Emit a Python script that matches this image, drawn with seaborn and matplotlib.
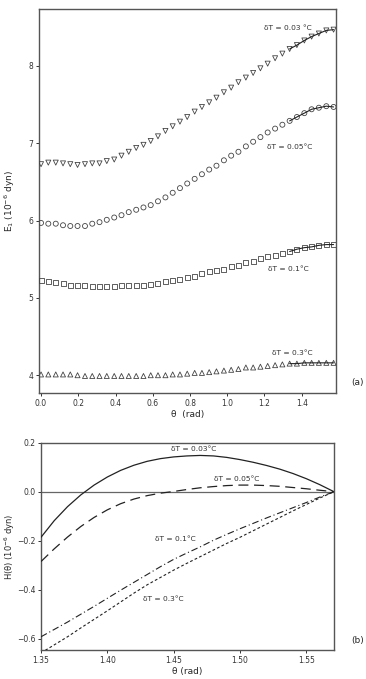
import matplotlib
matplotlib.use('Agg')
import matplotlib.pyplot as plt
import seaborn as sns
import pandas as pd

# --- data ---
# (a) E1 vs theta, 41 points 0..pi/2
THETA_A = [0.0, 0.039, 0.079, 0.118, 0.157, 0.196, 0.236, 0.275, 0.314, 0.353,
           0.393, 0.432, 0.471, 0.511, 0.550, 0.589, 0.628, 0.668, 0.707, 0.746,
           0.785, 0.825, 0.864, 0.903, 0.942, 0.982, 1.021, 1.060, 1.100, 1.139,
           1.178, 1.217, 1.257, 1.296, 1.335, 1.374, 1.414, 1.453, 1.492, 1.532, 1.571]
E_003 = [6.73, 6.75, 6.75, 6.74, 6.73, 6.72, 6.73, 6.74, 6.74, 6.77,
         6.79, 6.84, 6.89, 6.94, 6.98, 7.03, 7.09, 7.16, 7.22, 7.28,
         7.34, 7.41, 7.47, 7.53, 7.59, 7.66, 7.72, 7.79, 7.85, 7.91,
         7.97, 8.03, 8.10, 8.16, 8.22, 8.27, 8.33, 8.38, 8.42, 8.46, 8.47]
E_005 = [5.97, 5.96, 5.96, 5.94, 5.93, 5.93, 5.93, 5.96, 5.98, 6.01,
         6.04, 6.07, 6.11, 6.14, 6.17, 6.20, 6.25, 6.30, 6.36, 6.42,
         6.48, 6.54, 6.60, 6.66, 6.71, 6.78, 6.84, 6.89, 6.96, 7.02,
         7.08, 7.14, 7.19, 7.24, 7.29, 7.34, 7.39, 7.44, 7.46, 7.48, 7.47]
E_01 = [5.22, 5.21, 5.20, 5.18, 5.16, 5.16, 5.16, 5.15, 5.15, 5.15,
        5.15, 5.16, 5.16, 5.16, 5.16, 5.17, 5.19, 5.21, 5.22, 5.24,
        5.27, 5.28, 5.31, 5.34, 5.35, 5.37, 5.40, 5.42, 5.46, 5.47,
        5.51, 5.53, 5.55, 5.58, 5.60, 5.63, 5.65, 5.66, 5.68, 5.69, 5.69]
E_03 = [4.01, 4.01, 4.01, 4.01, 4.01, 4.00, 3.99, 3.99, 3.99, 3.99,
        3.99, 3.99, 3.99, 3.99, 3.99, 4.00, 4.00, 4.00, 4.01, 4.01,
        4.02, 4.03, 4.03, 4.04, 4.05, 4.06, 4.07, 4.08, 4.10, 4.10,
        4.11, 4.12, 4.13, 4.14, 4.15, 4.15, 4.16, 4.16, 4.16, 4.16, 4.16]
FIT_START = 34  # solid fit drawn over the last points

# (b) H(theta)
THETA_B = [1.35, 1.36, 1.37, 1.38, 1.39, 1.40, 1.41, 1.42, 1.43, 1.44, 1.45, 1.46,
           1.47, 1.48, 1.49, 1.50, 1.51, 1.52, 1.53, 1.54, 1.55, 1.56, 1.5708]
H_003 = [-0.186, -0.118, -0.061, -0.013, 0.027, 0.060, 0.087, 0.108, 0.124, 0.135, 0.142, 0.146,
         0.148, 0.146, 0.140, 0.131, 0.120, 0.107, 0.092, 0.074, 0.053, 0.029, 0.0]
H_005 = [-0.285, -0.233, -0.185, -0.142, -0.105, -0.074, -0.049, -0.030, -0.016, -0.006, 0.001, 0.009,
         0.016, 0.021, 0.025, 0.027, 0.027, 0.025, 0.022, 0.017, 0.012, 0.006, 0.0]
H_01 = [-0.592, -0.562, -0.532, -0.500, -0.468, -0.435, -0.402, -0.370, -0.338, -0.306, -0.276, -0.250,
        -0.225, -0.198, -0.174, -0.151, -0.129, -0.107, -0.086, -0.065, -0.044, -0.022, 0.0]
H_03 = [-0.658, -0.625, -0.592, -0.556, -0.521, -0.486, -0.450, -0.414, -0.380, -0.350, -0.320, -0.292,
        -0.265, -0.238, -0.211, -0.186, -0.159, -0.132, -0.105, -0.078, -0.052, -0.026, 0.0]

LABELS_A = ["δT = 0.03 °C", "δT = 0.05°C", "δT = 0.1°C", "δT = 0.3°C"]
LABELS_B = ["δT = 0.03°C", "δT = 0.05°C", "δT = 0.1°C", "δT = 0.3°C"]

sns.set_style("ticks")
plt.rcParams['font.family'] = ['DejaVu Sans']
plt.rcParams['mathtext.fontset'] = 'dejavusans'

FRAME = "#555555"
MK = "#444444"
TICK_FS = 5.5
LAB_FS = 6.5
ANN_FS = 5.4

fig = plt.figure(figsize=(3.66, 6.79), dpi=100)
ax1 = fig.add_axes([39/366, 1 - 393/679, (336 - 39)/366, (393 - 9)/679])
ax2 = fig.add_axes([41/366, 1 - 650/679, (334 - 41)/366, (650 - 442.7)/679])

# --- panel (a) ---
dfa = pd.DataFrame({"theta": THETA_A, "E003": E_003, "E005": E_005, "E01": E_01, "E03": E_03})
for col, mk in [("E003", "v"), ("E005", "o"), ("E01", "s"), ("E03", "^")]:
    sns.scatterplot(data=dfa, x="theta", y=col, ax=ax1, marker=mk, s=13,
                    facecolor="none", edgecolor=MK, linewidth=0.6, zorder=3)
    fit = dfa.iloc[FIT_START:]
    sns.lineplot(data=fit, x="theta", y=col, ax=ax1, color="#222222", lw=0.8, zorder=4)

ann_a = [(1.326, 8.49), (1.337, 6.95), (1.326, 5.37), (1.348, 4.29)]
for (x, y), t in zip(ann_a, LABELS_A):
    ax1.text(x, y, t, fontsize=ANN_FS, ha="center", va="center", color="#333333")

ax1.set_xlim(-0.011, 1.584)
ax1.set_ylim(3.77, 8.737)
ax1.set_xticks([0.0, 0.2, 0.4, 0.6, 0.8, 1.0, 1.2, 1.4])
ax1.set_xticklabels([f"{v:.1f}" for v in [0.0, 0.2, 0.4, 0.6, 0.8, 1.0, 1.2, 1.4]])
ax1.set_yticks([4, 5, 6, 7, 8])
ax1.set_xlabel("θ  (rad)", fontsize=LAB_FS, labelpad=1.5)
ax1.set_ylabel("E$_1$ (10$^{-6}$ dyn)", fontsize=LAB_FS)
ax1.yaxis.set_label_coords(-0.075, 0.5)

# --- panel (b) ---
dfb = pd.DataFrame({"theta": THETA_B, "H003": H_003, "H005": H_005, "H01": H_01, "H03": H_03})
ax2.axhline(0, color="#666666", lw=0.9, zorder=1)
styles = [("H003", "-", 0.9), ("H005", (0, (8, 4.5)), 0.9),
          ("H01", (0, (6, 2.5, 1, 2.5)), 0.8), ("H03", (0, (2.5, 2)), 0.8)]
for col, ls, lw in styles:
    sns.lineplot(data=dfb, x="theta", y=col, ax=ax2, color="#222222", lw=lw, linestyle=ls, zorder=3)

ann_b = [(1.465, 0.174), (1.4977, 0.052), (1.4515, -0.193), (1.4424, -0.438)]
for (x, y), t in zip(ann_b, LABELS_B):
    ax2.text(x, y, t, fontsize=ANN_FS, ha="center", va="center", color="#333333")

ax2.set_xlim(1.35, 1.5708)
ax2.set_ylim(-0.646, 0.2)
ax2.set_xticks([1.35, 1.40, 1.45, 1.50, 1.55])
ax2.set_xticklabels(["1.35", "1.40", "1.45", "1.50", "1.55"])
ax2.set_yticks([-0.6, -0.4, -0.2, 0.0, 0.2])
ax2.set_yticklabels(["−0.6", "−0.4", "−0.2", "0.0", "0.2"])
ax2.set_xlabel("θ (rad)", fontsize=LAB_FS, labelpad=1.5)
ax2.set_ylabel("H(θ) (10$^{-6}$ dyn)", fontsize=6)
ax2.yaxis.set_label_coords(-0.083, 0.5)

for ax in (ax1, ax2):
    for sp in ax.spines.values():
        sp.set_color(FRAME)
        sp.set_linewidth(1.0)
    ax.tick_params(labelsize=TICK_FS, length=2.5, width=0.7, pad=1.5,
                   colors="#333333", direction="out")

fig.text(357/366, 1 - 383/679, "(a)", fontsize=LAB_FS, ha="center", va="center")
fig.text(0.995, 1 - 640/679, "(b)", fontsize=LAB_FS, ha="right", va="center")

plt.savefig("out.png", dpi=100)
plt.close()
